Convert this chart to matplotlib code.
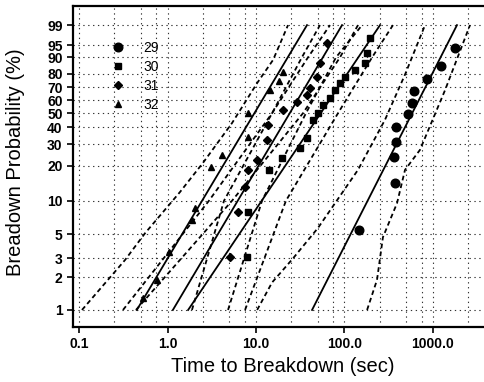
import numpy as np
import matplotlib
matplotlib.use("Agg")
from matplotlib import pyplot as plt

# failure data: time (sec) and plotting position (%)
t29 = [146, 372, 363, 382, 382, 522, 580, 610, 855, 1230, 1774]
p29 = [5.5, 14.3, 23.7, 31.2, 40.3, 49.2, 57.7, 67.1, 76.4, 85.2, 94.0]

t30 = [7.9, 8.1, 14.0, 19.7, 31.4, 37.7, 44.1, 50.2, 57.2, 68.6, 78.2, 89.0, 101, 131, 171, 180, 194]
p30 = [3.1, 7.9, 18.5, 23.2, 27.9, 33.4, 45.2, 50.2, 56.0, 61.8, 68.0, 73.4, 77.9, 82.6, 86.9, 92.0, 96.9]

t31 = [5.08, 6.27, 7.52, 8.13, 10.3, 13.3, 13.7, 20.2, 29.0, 37.7, 40.7, 48.9, 52.8, 63.4]
p31 = [3.1, 7.9, 13.2, 18.5, 22.4, 32.2, 41.6, 52.4, 58.4, 63.9, 69.6, 77.9, 86.9, 95.6]

t32 = [0.53, 0.76, 1.04, 1.89, 2.05, 3.10, 4.13, 8.13, 8.13, 14.4, 18.2, 20.2]
p32 = [1.3, 1.9, 3.4, 6.7, 8.6, 19.6, 24.6, 33.9, 50.2, 68.0, 74.9, 81.3]

# weibull fit lines, time at 1% and 99%
fit_pct = [1, 99]
fit29 = [43, 1866]
fit30 = [1.71, 252]
fit31 = [1.15, 93.8]
fit32 = [0.45, 37.7]

# confidence bounds (dashed)
ub29_t = [10.3, 15.2, 26.2, 50.2, 142, 287, 483, 813]
ub29_p = [1, 1.8, 3.0, 5.7, 18.5, 45.2, 79.6, 99]
lb29_t = [180, 233, 272, 392, 483, 713, 1368, 2618]
lb29_p = [1, 1.9, 4.7, 9.5, 18.5, 27.0, 67.9, 99]

bnd_p = [1, 10, 50, 90, 99]
ub30_t = [0.44, 5.36, 34.0, 89.0, 142]
lb30_t = [7.52, 21.8, 84.5, 205, 353]
ub31_t = [0.314, 2.94, 15.2, 38.7, 68.6]
lb31_t = [4.83, 11.7, 36.7, 80.2, 158]
lb32_t = [1.89, 4.35, 15.2, 33.0, 52.8]
ub32_t = [0.108, 0.331, 0.557, 1.38, 2.52, 5.36, 10.3, 15.6, 23.0]
ub32_p = [1, 2.9, 5.1, 11.9, 21.2, 42.9, 73.4, 88.7, 99]

yticks = [1, 2, 3, 5, 10, 20, 30, 40, 50, 60, 70, 80, 90, 95, 99]
xticks = [0.1, 1, 10, 100, 1000]
xticklabels = ["0.1", "1.0", "10.0", "100.0", "1000.0"]
xminor = [0.25, 0.5, 0.75, 2.5, 5, 7.5, 25, 50, 75, 250, 500, 750, 2500]


def wb(p):
    p = np.clip(np.asarray(p, dtype=float), 1e-9, 100 - 1e-9)
    return np.log(-np.log(1 - p / 100.0))


def wb_inv(w):
    return 100.0 * (1 - np.exp(-np.exp(np.asarray(w, dtype=float))))


plt.rcParams['font.family'] = ['Liberation Sans', 'DejaVu Sans']

fig = plt.figure(figsize=(4.85, 3.82), dpi=100)
ax = fig.add_axes([73/485, 1 - 327/382, 412/485, 321/382])
ax.set_xscale('log')
ax.set_yscale('function', functions=(wb, wb_inv))

grid = dict(color='0.2', linestyle=(0, (1.2, 3.2)), linewidth=0.8, zorder=0)
for v in xticks + xminor:
    ax.axvline(v, **grid)
for v in yticks:
    ax.axhline(v, **grid)

dash = dict(color='black', linestyle=(0, (2.6, 1.8)), linewidth=1.3)
solid = dict(color='black', linewidth=1.3)

ax.plot(fit29, fit_pct, **solid)
ax.plot(fit30, fit_pct, **solid)
ax.plot(fit31, fit_pct, **solid)
ax.plot(fit32, fit_pct, **solid)

ax.plot(ub29_t, ub29_p, **dash)
ax.plot(lb29_t, lb29_p, **dash)
ax.plot(ub30_t, bnd_p, **dash)
ax.plot(lb30_t, bnd_p, **dash)
ax.plot(ub31_t, bnd_p, **dash)
ax.plot(lb31_t, bnd_p, **dash)
ax.plot(ub32_t, ub32_p, **dash)
ax.plot(lb32_t, bnd_p, **dash)

h29, = ax.plot(t29, p29, 'o', color='black', ms=6.2, ls='none', label='29')
h30, = ax.plot(t30, p30, 's', color='black', ms=4.3, ls='none', label='30')
h31, = ax.plot(t31, p31, 'D', color='black', ms=4.0, ls='none', label='31')
h32, = ax.plot(t32, p32, '^', color='black', ms=4.0, ls='none', label='32')

ax.set_xlim(0.0855, 3870)
ax.set_ylim(0.694, 99.904)

ax.set_xticks(xticks)
ax.set_xticklabels(xticklabels)
ax.set_xticks(xminor, minor=True)
ax.set_xticklabels([], minor=True)
ax.set_yticks(yticks)
ax.set_yticklabels([str(v) for v in yticks])
ax.yaxis.set_minor_locator(matplotlib.ticker.NullLocator())
ax.tick_params(axis='both', which='major', labelsize=10, width=1.2, length=4, direction='out')
ax.tick_params(axis='x', which='minor', length=0)
for lab in ax.get_xticklabels() + ax.get_yticklabels():
    lab.set_fontweight('bold')

for s in ['left', 'bottom', 'top']:
    ax.spines[s].set_linewidth(1.6)
ax.spines['right'].set_visible(False)

leg = ax.legend(handles=[h29, h30, h31, h32], loc='upper left',
                bbox_to_anchor=((111 - 73) / 412, (327 - 41) / 321),
                frameon=False, fontsize=10, borderpad=0, borderaxespad=0,
                handlelength=1.0, handletextpad=1.3, labelspacing=0.35)

fig.text(283/485, 1 - 366/382, "Time to Breakdown (sec)", ha='center', va='center', fontsize=14.5)
fig.text(16/485, 1 - 162/382, "Breadown Probability (%)", ha='center', va='center',
         rotation=90, fontsize=14.5)

fig.savefig("out.png", dpi=100)
